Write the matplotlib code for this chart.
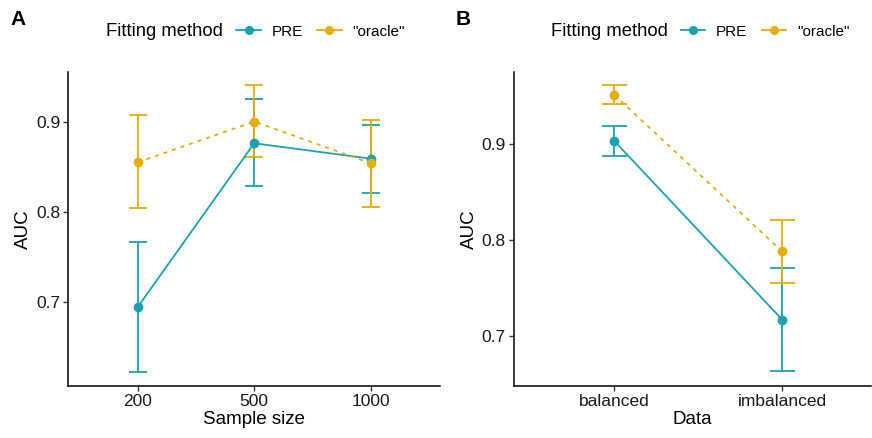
import matplotlib.pyplot as plt
from matplotlib.lines import Line2D
import numpy as np

plt.rcParams['font.family'] = ['Liberation Sans', 'DejaVu Sans']

## PANEL A: AUC BY SAMPLE SIZE
a_sizes      = ['200', '500', '1000']
a_pre_auc    = [0.695, 0.876, 0.859]
a_pre_lo     = [0.623, 0.829, 0.821]
a_pre_hi     = [0.767, 0.925, 0.896]
a_ora_auc    = [0.855, 0.900, 0.854]
a_ora_lo     = [0.804, 0.861, 0.805]
a_ora_hi     = [0.907, 0.940, 0.902]

## PANEL B: AUC BY DATA BALANCE
b_data       = ['balanced', 'imbalanced']
b_pre_auc    = [0.903, 0.717]
b_pre_lo     = [0.887, 0.663]
b_pre_hi     = [0.919, 0.771]
b_ora_auc    = [0.951, 0.788]
b_ora_lo     = [0.941, 0.755]
b_ora_hi     = [0.961, 0.821]

teal = '#1AA3AE'
gold = '#E6AD0B'

fig = plt.figure(figsize=(8.72, 4.38), dpi=100)
ax1 = fig.add_axes([0.078, 0.119, 0.427, 0.717])
ax2 = fig.add_axes([0.589, 0.119, 0.41, 0.717])


def draw(ax, labels, auc, lo, hi, color, ls, capsize):
    x = np.arange(1, len(labels) + 1)
    yerr = [np.array(auc) - np.array(lo), np.array(hi) - np.array(auc)]
    ax.errorbar(x, auc, yerr=yerr, fmt='none', ecolor=color, elinewidth=1.3,
                capsize=capsize, capthick=1.3, zorder=2)
    ax.plot(x, auc, color=color, linestyle=ls, linewidth=1.3, zorder=3)
    ax.plot(x, auc, 'o', color=color, markersize=6, zorder=4)


draw(ax1, a_sizes, a_pre_auc, a_pre_lo, a_pre_hi, teal, '-', 6.8)
draw(ax1, a_sizes, a_ora_auc, a_ora_lo, a_ora_hi, gold, (0, (2.2, 2.8)), 6.8)
draw(ax2, b_data, b_pre_auc, b_pre_lo, b_pre_hi, teal, '-', 9.0)
draw(ax2, b_data, b_ora_auc, b_ora_lo, b_ora_hi, gold, (0, (2.2, 2.8)), 9.0)

ax1.set_xlim(0.4, 3.6)
ax1.set_ylim(0.6077, 0.955)
ax1.set_xticks([1, 2, 3])
ax1.set_xticklabels(a_sizes)
ax1.set_yticks([0.7, 0.8, 0.9])
ax1.set_xlabel('Sample size', fontsize=13.5, labelpad=2)
ax1.set_ylabel('AUC', fontsize=13.5, labelpad=3)

ax2.set_xlim(0.4, 2.53)
ax2.set_ylim(0.648, 0.975)
ax2.set_xticks([1, 2])
ax2.set_xticklabels(b_data)
ax2.set_yticks([0.7, 0.8, 0.9])
ax2.set_xlabel('Data', fontsize=13.5, labelpad=2)
ax2.set_ylabel('AUC', fontsize=13.5, labelpad=3)

for ax in (ax1, ax2):
    for s in ('top', 'right'):
        ax.spines[s].set_visible(False)
    for s in ('left', 'bottom'):
        ax.spines[s].set_linewidth(1.1)
    ax.tick_params(labelsize=12.5, length=3.5, width=1.0, color='#333333',
                   labelcolor='#1a1a1a', pad=2)

# legends
handles = [Line2D([0], [0], color=teal, marker='o', markersize=5.5, linewidth=1.3),
           Line2D([0], [0], color=gold, marker='o', markersize=5.5, linewidth=1.3)]
for title_x, leg_x in ((0.122, 0.271), (0.632, 0.781)):
    fig.text(title_x, 0.928, 'Fitting method', fontsize=13.3, va='center')
    fig.legend(handles, ['PRE', '"oracle"'], ncol=2, frameon=False,
               loc='center left', bbox_to_anchor=(leg_x, 0.928),
               fontsize=11, handlelength=1.6, handletextpad=0.7,
               columnspacing=0.95, borderaxespad=0, borderpad=0)

fig.text(0.012, 0.955, 'A', fontsize=15, fontweight='bold', va='center')
fig.text(0.523, 0.955, 'B', fontsize=15, fontweight='bold', va='center')

plt.savefig('out.png', dpi=100)
